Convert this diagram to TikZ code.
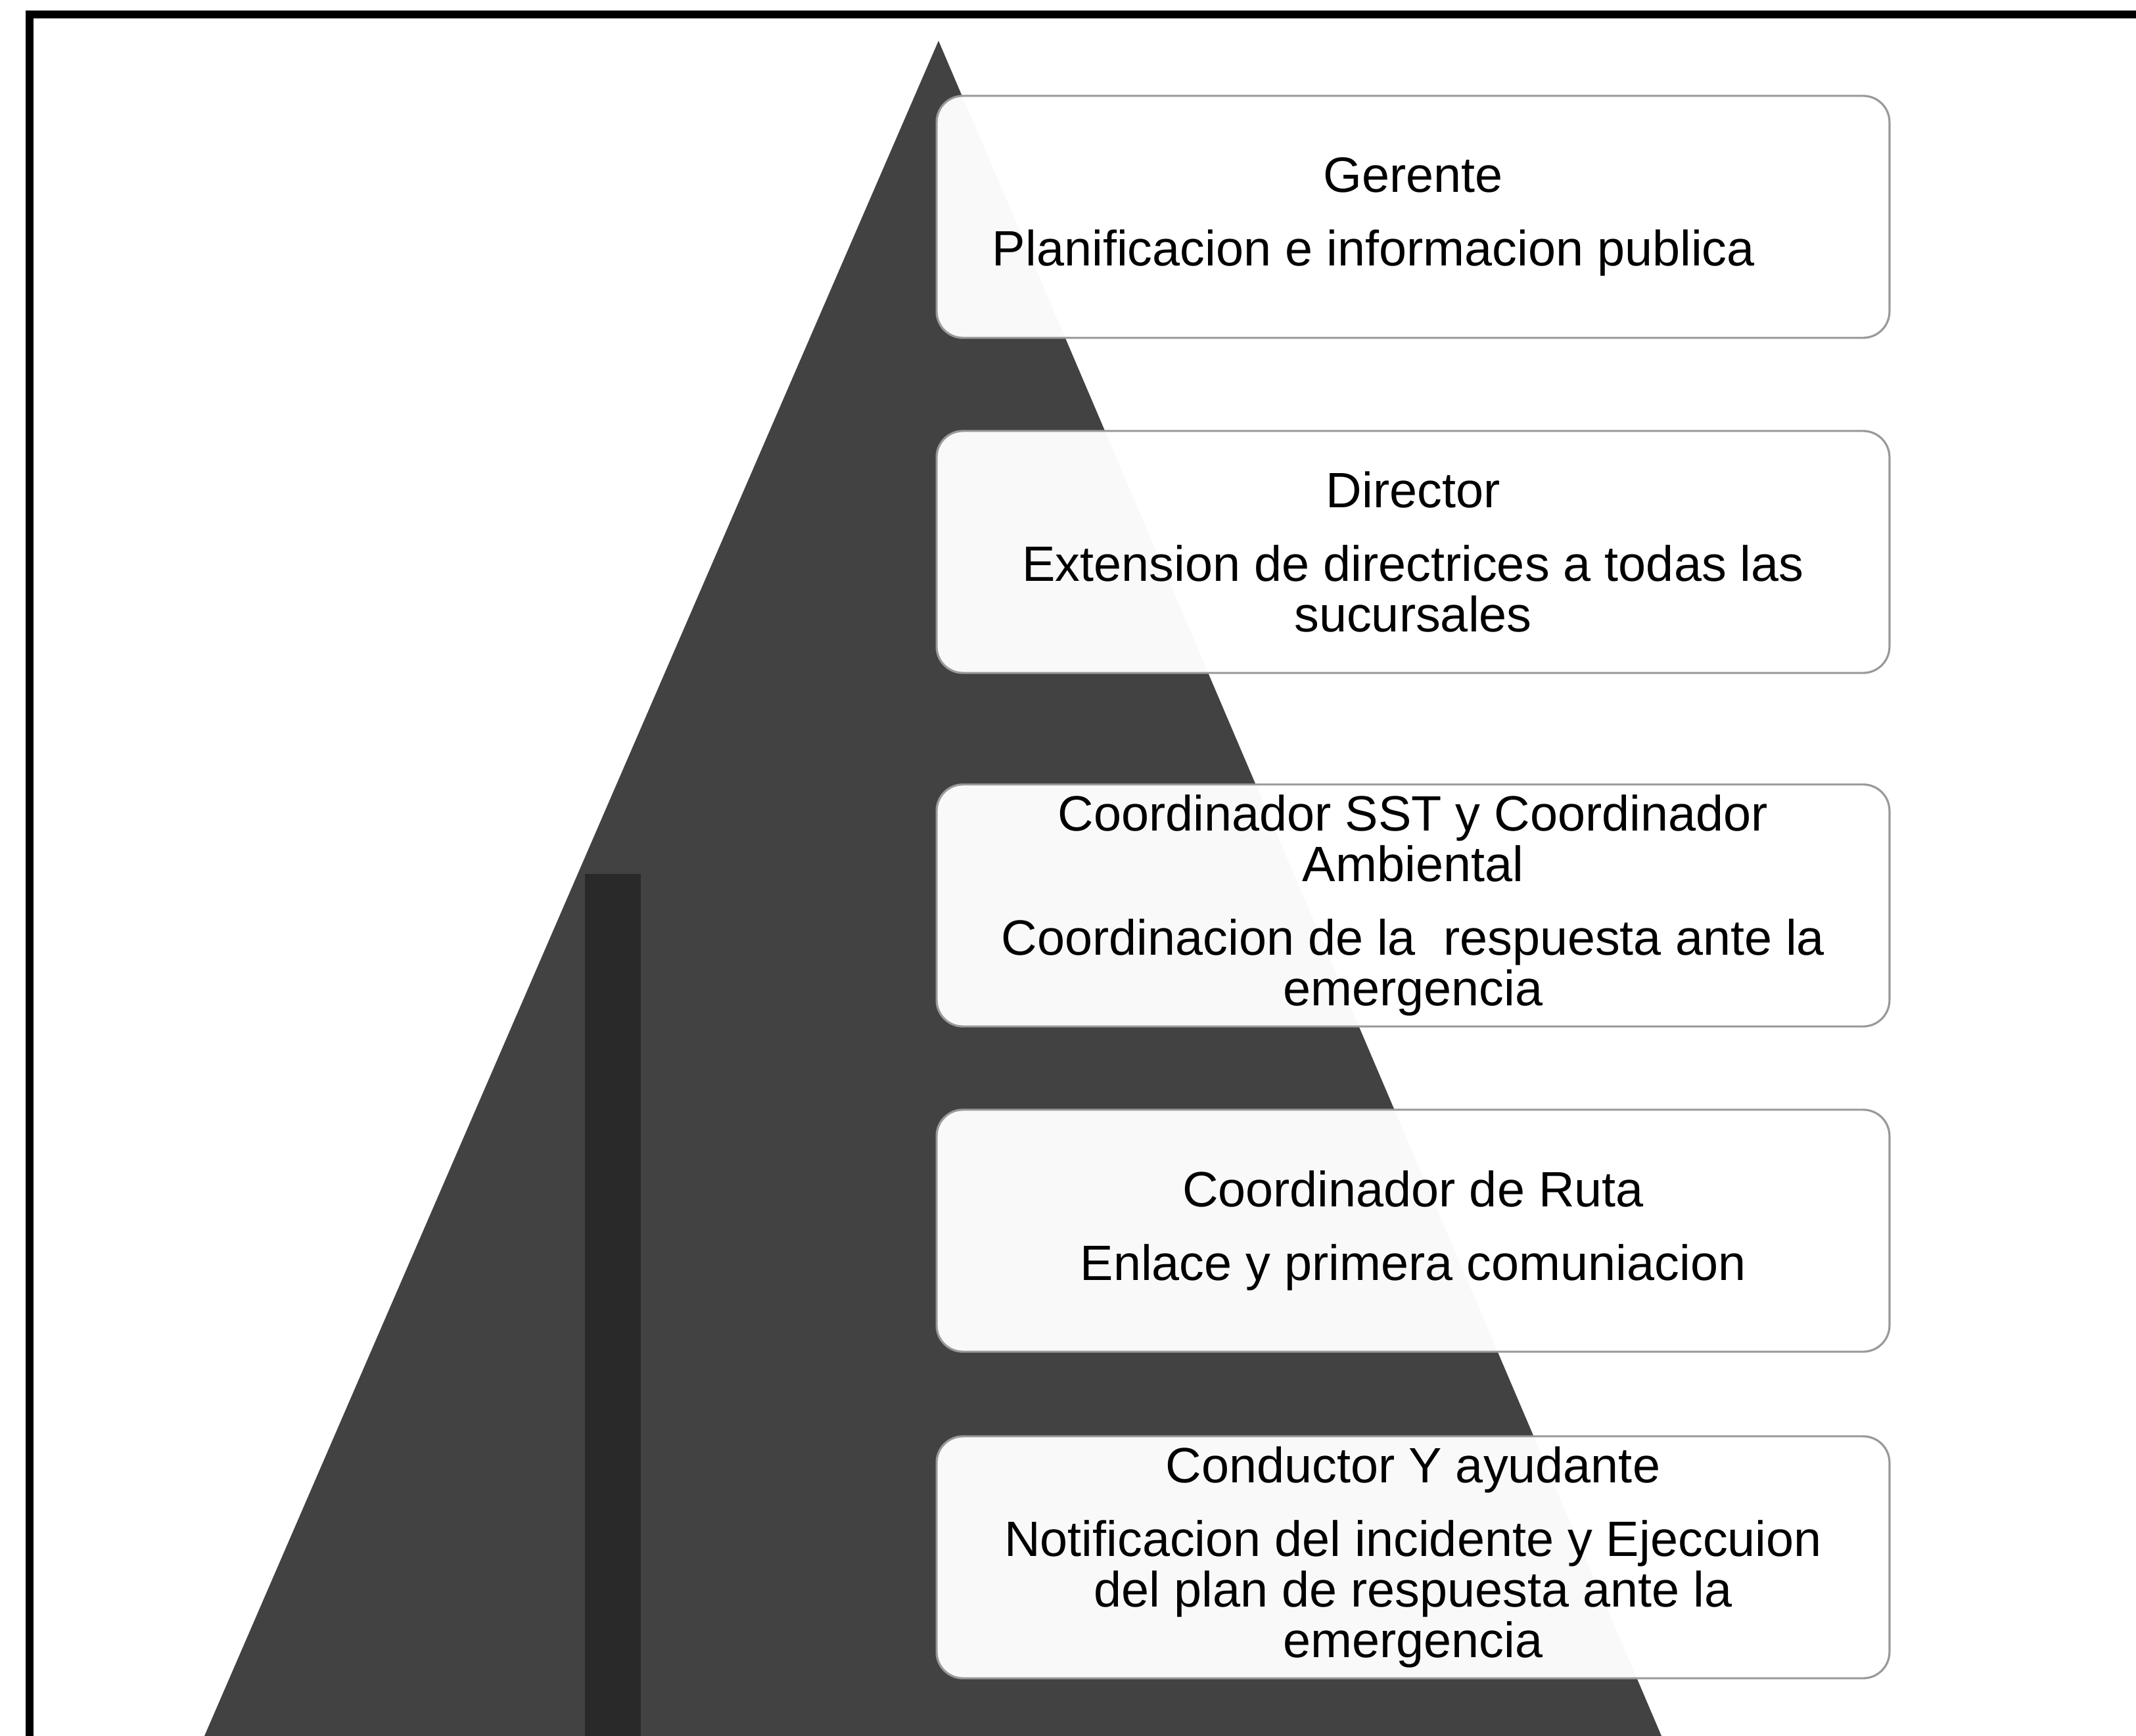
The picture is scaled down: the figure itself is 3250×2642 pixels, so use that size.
\documentclass[tikz,border=0pt]{standalone}
\usepackage{fontspec}
\setmainfont{Liberation Sans}
\begin{document}
\begin{tikzpicture}[x=0.01cm,y=-0.01cm,
  frameline/.style={line width=0.12cm, black},
  pyramid/.style={fill=black!74, draw=none},
  darkband/.style={fill=black!84, draw=none},
  tierbox/.style={draw=black!40, line width=0.9pt, rounded corners=0.4cm,
    fill=white, fill opacity=0.97, text opacity=1,
    minimum width=14.49cm, minimum height=3.68cm, inner sep=0pt,
    align=center, font=\fontsize{21.5}{21.8}\selectfont}]
\useasboundingbox (0,0) rectangle (3250,2642);
\fill[white] (0,0) rectangle (3250,2642);
% frame
\coordinate (fTL) at (45,22);
\coordinate (fTR) at (3260,22);
\coordinate (fBL) at (45,2660);
\draw[frameline] (fTR) -- (fTL) -- (fBL);
% pyramid
\coordinate (apex) at (1428,62);
\coordinate (bl) at (311,2642);
\coordinate (br) at (2528,2642);
\path[pyramid] (apex) -- (br) -- (bl) -- cycle;
\begin{scope}
  \clip (apex) -- (br) -- (bl) -- cycle;
  \path[darkband] (890,1330) rectangle (975,2642);
\end{scope}
% tiers
\node[tierbox] (t1) at (2150,330) {Gerente\\[10pt]Planificacion e informacion publica\hspace*{1.2cm}};
\node[tierbox] (t2) at (2150,840) {Director\\[10pt]Extension de directrices a todas las\\sucursales};
\node[tierbox] (t3) at (2150,1378) {Coordinador SST y Coordinador\\Ambiental\\[10pt]Coordinacion de la\ \ respuesta ante la\\emergencia};
\node[tierbox] (t4) at (2150,1873) {Coordinador de Ruta\\[10pt]Enlace y primera comuniacion};
\node[tierbox] (t5) at (2150,2370) {Conductor Y ayudante\\[10pt]Notificacion del incidente y Ejeccuion\\del plan de respuesta ante la\\emergencia};
\end{tikzpicture}
\end{document}
